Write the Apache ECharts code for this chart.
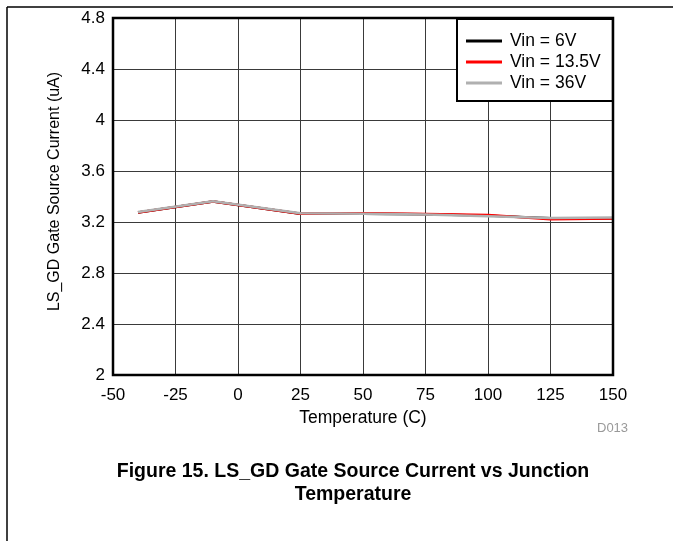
<!DOCTYPE html>
<html><head><meta charset="utf-8">
<script src="https://cdn.jsdelivr.net/npm/echarts@6/dist/echarts.min.js"></script>
<style>html,body{margin:0;padding:0;background:#fff}#c{width:673px;height:541px}</style>
</head><body><div id="c"></div>
<script>
const temps = [-40, -10, 25, 50, 75, 100, 125, 150];
const vin6 = [3.275, 3.36, 3.265, 3.265, 3.26, 3.25, 3.23, 3.23];
const vin13 = [3.275, 3.36, 3.265, 3.268, 3.262, 3.255, 3.222, 3.228];
const vin36 = [3.278, 3.362, 3.268, 3.265, 3.258, 3.245, 3.232, 3.235];
const seriesNames = ['Vin = 6V', 'Vin = 13.5V', 'Vin = 36V'];

const font = 'Liberation Sans, Arial, sans-serif';
const chart = echarts.init(document.getElementById('c'));
const pair = a => temps.map((t, i) => [t, a[i]]);
chart.setOption({
  animation: false,
  grid: { left: 113, top: 18, width: 500, height: 357, show: true, borderColor: '#000', borderWidth: 2.5, backgroundColor: 'transparent', z: 5 },
  legend: {
    orient: 'vertical', left: 457, top: 19,
    padding: [13, 12, 9, 9], itemGap: 3, itemWidth: 36, itemHeight: 3, icon: 'rect',
    backgroundColor: '#fff', borderColor: '#000', borderWidth: 2,
    textStyle: { fontFamily: font, fontSize: 17.5, color: '#000', padding: [0, 0, 0, 3] },
    data: seriesNames, z: 10
  },
  xAxis: {
    type: 'value', min: -50, max: 150, interval: 25,
    name: 'Temperature (C)', nameLocation: 'middle', nameGap: 32,
    nameTextStyle: { fontFamily: font, fontSize: 17.5, color: '#000' },
    axisLine: { show: false }, axisTick: { show: false },
    axisLabel: { fontFamily: font, fontSize: 17, color: '#000', margin: 12 },
    splitLine: { show: true, lineStyle: { color: '#3a3a3a', width: 1 } }
  },
  yAxis: {
    type: 'value', min: 2, max: 4.8, interval: 0.4,
    name: 'LS_GD Gate Source Current (uA)', nameLocation: 'middle', nameGap: 50,
    nameTextStyle: { fontFamily: font, fontSize: 16, color: '#000', padding: [0, 0, 0, 10] },
    axisLine: { show: false }, axisTick: { show: false },
    axisLabel: { fontFamily: font, fontSize: 17, color: '#000', margin: 8, formatter: v => String(Math.round(v * 10) / 10) },
    splitLine: { show: true, lineStyle: { color: '#3a3a3a', width: 1 } }
  },
  series: [
    { name: seriesNames[0], type: 'line', data: pair(vin6), showSymbol: false, lineStyle: { color: '#000', width: 2.5 }, itemStyle: { color: '#000' }, z: 2 },
    { name: seriesNames[1], type: 'line', data: pair(vin13), showSymbol: false, lineStyle: { color: '#ff0000', width: 2.5 }, itemStyle: { color: '#ff0000' }, z: 3 },
    { name: seriesNames[2], type: 'line', data: pair(vin36), showSymbol: false, lineStyle: { color: '#b0b0b0', width: 2.5 }, itemStyle: { color: '#b0b0b0' }, z: 4 }
  ],
  graphic: [
    { type: 'line', shape: { x1: 7, y1: 7, x2: 673, y2: 7 }, style: { stroke: '#000', lineWidth: 1.5 } },
    { type: 'line', shape: { x1: 7, y1: 7, x2: 7, y2: 541 }, style: { stroke: '#000', lineWidth: 1.5 } },
    { type: 'text', style: { x: 597, y: 428, text: 'D013', fontFamily: font, fontSize: 13, fill: '#999', verticalAlign: 'middle' } },
    { type: 'text', style: { x: 353, y: 472, text: 'Figure 15. LS_GD Gate Source Current vs Junction', fontFamily: font, fontSize: 19.5, fontWeight: 'bold', fill: '#000', align: 'center', verticalAlign: 'middle' } },
    { type: 'text', style: { x: 353, y: 495, text: 'Temperature', fontFamily: font, fontSize: 19.5, fontWeight: 'bold', fill: '#000', align: 'center', verticalAlign: 'middle' } }
  ]
});
</script></body></html>
